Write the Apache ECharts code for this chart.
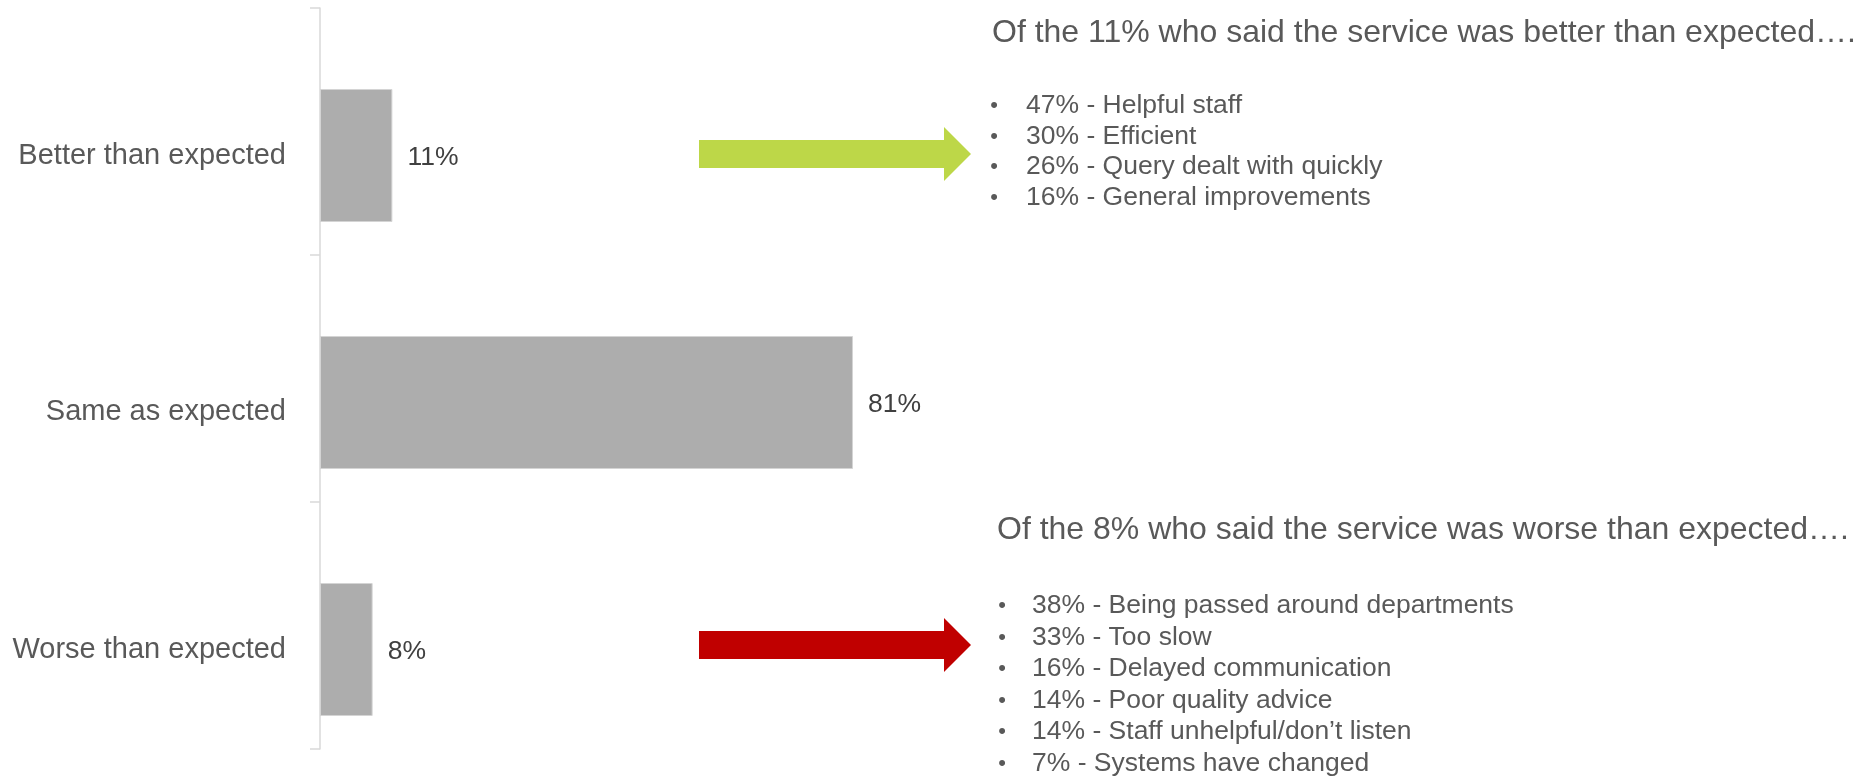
<!DOCTYPE html>
<html>
<head>
<meta charset="utf-8">
<title>Service compared with expectations</title>
<script src="https://cdn.jsdelivr.net/npm/echarts@6/dist/echarts.min.js"></script>
<style>
  html, body { margin: 0; padding: 0; background: #ffffff; }
  #chart { width: 1853px; height: 777px; }
</style>
</head>
<body>
<div id="chart"></div>
<script>
// Share of respondents by how the service compared with what they expected
const categories = ['Better than expected', 'Same as expected', 'Worse than expected'];
const shares = [11, 81, 8];

// Reasons given by those who rated the service better than expected
const betterPct = [47, 30, 26, 16];
const betterReasons = ['Helpful staff', 'Efficient', 'Query dealt with quickly', 'General improvements'];

// Reasons given by those who rated the service worse than expected
const worsePct = [38, 33, 16, 14, 14, 7];
const worseReasons = ['Being passed around departments', 'Too slow', 'Delayed communication',
  'Poor quality advice', 'Staff unhelpful/don\u2019t listen', 'Systems have changed'];

const FONT = '"Liberation Sans", Arial, Helvetica, sans-serif';
const GREY_TEXT = '#595959';

const chart = echarts.init(document.getElementById('chart'), null, { renderer: 'canvas' });

// Arrow shape pointing right: shaft from x0 to the head, tip at x1
function arrow(x0, x1, cy, color) {
  const head = 27, shaft = 14, headLen = 27;
  return {
    type: 'polygon',
    shape: {
      points: [
        [x0, cy - shaft], [x1 - headLen, cy - shaft], [x1 - headLen, cy - head],
        [x1, cy], [x1 - headLen, cy + head], [x1 - headLen, cy + shaft], [x0, cy + shaft]
      ]
    },
    style: { fill: color }
  };
}

// Heading plus bullet list
function reasonBlock(b, header, pct, reasons) {
  const els = [{
    type: 'text', x: b.headX, y: b.headY,
    style: { text: header, font: '32px ' + FONT, fill: GREY_TEXT, verticalAlign: 'middle', align: 'left' }
  }];
  pct.forEach((p, i) => {
    const y = b.listY + i * b.step;
    els.push({
      type: 'text', x: b.bulletX, y: y,
      style: { text: '\u2022', font: '22px ' + FONT, fill: GREY_TEXT, verticalAlign: 'middle', align: 'center' }
    });
    els.push({
      type: 'text', x: b.textX, y: y,
      style: { text: p + '% - ' + reasons[i], font: '26.5px ' + FONT, fill: GREY_TEXT, verticalAlign: 'middle', align: 'left' }
    });
  });
  return els;
}

const option = {
  backgroundColor: '#ffffff',
  animation: false,
  grid: [
    // frame for the category axis line and its ticks
    { left: 320, top: 8, width: 658, height: 741, containLabel: false },
    // plotting area for the bars
    { left: 320, top: 32, width: 658, height: 741, containLabel: false }
  ],
  xAxis: [
    { gridIndex: 0, type: 'value', min: 0, max: 100, show: false },
    { gridIndex: 1, type: 'value', min: 0, max: 100, show: false }
  ],
  yAxis: [
    {
      gridIndex: 0, type: 'category', inverse: true,
      data: categories.map(() => ''),
      axisLine: { show: true, lineStyle: { color: '#d9d9d9', width: 1.5 } },
      axisTick: { show: true, length: 10, lineStyle: { color: '#d9d9d9', width: 1.5 } },
      axisLabel: { show: false },
      splitLine: { show: false }
    },
    {
      gridIndex: 1, type: 'category', inverse: true,
      data: categories,
      axisLine: { show: false },
      axisTick: { show: false },
      splitLine: { show: false },
      axisLabel: {
        margin: 34,
        fontSize: 29,
        fontFamily: FONT,
        color: GREY_TEXT,
        formatter: (v, i) => (i === 1 ? '{low|' + v + '}' : v),
        rich: { low: { fontSize: 29, fontFamily: FONT, color: GREY_TEXT, padding: [18, 0, 0, 0] } }
      }
    }
  ],
  series: [{
    type: 'bar',
    xAxisIndex: 1,
    yAxisIndex: 1,
    data: shares,
    barWidth: 133,
    itemStyle: { color: '#adadad', borderColor: '#d4d4d4', borderWidth: 1 },
    label: {
      show: true,
      position: 'right',
      distance: 15,
      offset: [0, 2],
      formatter: '{c}%',
      fontSize: 26.5,
      fontFamily: FONT,
      color: '#404040'
    }
  }],
  graphic: [
    arrow(699, 971, 154, '#bdd748'),
    arrow(699, 971, 645, '#c00000'),
    ...reasonBlock({ headX: 992, headY: 33, bulletX: 994, textX: 1026, listY: 106, step: 30.5 },
      'Of the ' + shares[0] + '% who said the service was better than expected\u2026.',
      betterPct, betterReasons),
    ...reasonBlock({ headX: 997, headY: 530, bulletX: 1002, textX: 1032, listY: 606, step: 31.5 },
      'Of the ' + shares[2] + '% who said the service was worse than expected\u2026.',
      worsePct, worseReasons)
  ]
};

chart.setOption(option);
</script>
</body>
</html>
